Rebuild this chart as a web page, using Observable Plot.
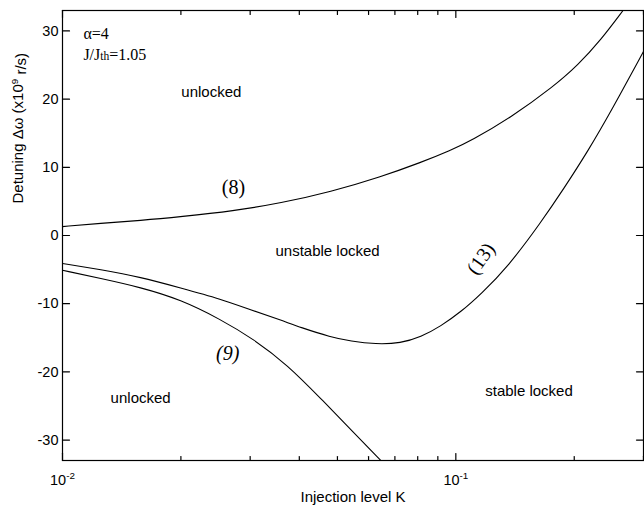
<!DOCTYPE html>
<html><head><meta charset="utf-8">
<script src="https://cdn.jsdelivr.net/npm/d3@7"></script>
<script src="https://cdn.jsdelivr.net/npm/@observablehq/plot@0.6"></script>
<style>body{margin:0;background:#fff} svg{display:block}</style>
</head><body><div id="chart"></div>
<script>
// Curve (8): upper boundary
const k8 = [0.01, 0.01249, 0.01579, 0.01997, 0.02723, 0.03587, 0.04808, 0.06446, 0.08145, 0.09712, 0.1092, 0.138, 0.1776, 0.2044, 0.2339, 0.2661];
const w8 = [1.3, 1.8, 2.2, 2.75, 3.6, 4.75, 6.4, 8.6, 10.7, 12.5, 13.9, 17.3, 21.9, 25.0, 28.7, 33.0];
// Curve (13): stability boundary
const k13 = [0.01, 0.01249, 0.01579, 0.01997, 0.02523, 0.03008, 0.03587, 0.04034, 0.04808, 0.05405, 0.06258, 0.07247, 0.08145, 0.09158, 0.1030, 0.1158, 0.1356, 0.1645, 0.1883, 0.2168, 0.248, 0.30];
const w13 = [-4.1, -5.0, -6.1, -7.7, -9.3, -10.9, -12.4, -13.5, -14.9, -15.5, -15.95, -15.8, -14.9, -13.3, -11.2, -8.6, -4.6, 1.9, 6.9, 12.4, 18.2, 27.0];
// Curve (9): lower boundary
const k9 = [0.01, 0.01249, 0.01579, 0.01997, 0.02523, 0.03062, 0.03737, 0.04534, 0.05502, 0.06446];
const w9 = [-5.1, -6.3, -7.6, -9.4, -12.3, -15.2, -19.0, -23.9, -28.9, -33.0];

const yTicks = [-30, -20, -10, 0, 10, 20, 30];
const xMajor = [0.01, 0.1];
const xMinor = [0.02, 0.03, 0.04, 0.05, 0.06, 0.07, 0.08, 0.09, 0.2, 0.3];

const regionText = ["unlocked", "unstable locked", "unlocked", "stable locked"];
const regionK = [0.0239, 0.0472, 0.0158, 0.1535];
const regionW = [21.0, -2.35, -23.8, -22.9];

const eqText = ["(8)", "(9)", "(13)"];
const eqK = [0.0272, 0.0263, 0.1158];
const eqW = [7.0, -17.3, -3.4];

const paramText = ["α=4", "J/Jth=1.05"];
const paramK = [0.0113, 0.0113];
const paramW = [29.6, 26.5];

const xLabel = "Injection level K";
const yLabel = "Detuning Δω (x10^9 r/s)";

const toRows = (ks, ws, extra) => ks.map((k, i) => ({k, w: ws[i], ...(extra ? {t: extra[i]} : {})}));
const c8 = toRows(k8, w8), c13 = toRows(k13, w13), c9 = toRows(k9, w9);
const regions = toRows(regionK, regionW, regionText);
const eqs = toRows(eqK, eqW, eqText);
const params = toRows(paramK, paramW, paramText);

const sans = "Liberation Sans, Arial, Helvetica, sans-serif";
const serif = "Liberation Serif, Times New Roman, serif";
const lineOpts = {x: "k", y: "w", curve: "basis", stroke: "#000", strokeWidth: 1.1, clip: true};

const W = 644, H = 508, mL = 62, mR = 1, mT = 10, mB = 48;
const tickStyle = {stroke: "#000", strokeWidth: 1.2, frameAnchor: "left"};

// inward tick marks drawn as short vectors anchored to the frame edges
const tickShape = {draw(context, l) { context.moveTo(0, 0); context.lineTo(0, -l); }};

const svg = Plot.plot({
  width: W, height: H,
  marginLeft: mL, marginRight: mR, marginTop: mT, marginBottom: mB,
  style: {fontFamily: sans, fontSize: "14px", color: "#000", background: "#fff"},
  x: {type: "log", domain: [0.01, 0.3]},
  y: {domain: [-33, 33]},
  marks: [
    Plot.line(c8, lineOpts),
    Plot.line(c13, lineOpts),
    Plot.line(c9, lineOpts),
    Plot.frame({stroke: "#000", strokeWidth: 1.2}),
    // left / right ticks
    Plot.vector(yTicks, {y: d => d, frameAnchor: "left", rotate: 90, length: 7, anchor: "start", shape: tickShape, stroke: "#000", strokeWidth: 1.2}),
    Plot.vector(yTicks, {y: d => d, frameAnchor: "right", rotate: -90, length: 7, anchor: "start", shape: tickShape, stroke: "#000", strokeWidth: 1.2}),
    // bottom / top ticks
    Plot.vector(xMajor, {x: d => d, frameAnchor: "bottom", rotate: 0, length: 7, anchor: "start", shape: tickShape, stroke: "#000", strokeWidth: 1.2}),
    Plot.vector(xMinor, {x: d => d, frameAnchor: "bottom", rotate: 0, length: 4, anchor: "start", shape: tickShape, stroke: "#000", strokeWidth: 1.2}),
    Plot.vector(xMajor, {x: d => d, frameAnchor: "top", rotate: 180, length: 7, anchor: "start", shape: tickShape, stroke: "#000", strokeWidth: 1.2}),
    Plot.vector(xMinor, {x: d => d, frameAnchor: "top", rotate: 180, length: 4, anchor: "start", shape: tickShape, stroke: "#000", strokeWidth: 1.2}),
    // tick labels
    Plot.axisY(yTicks, {anchor: "left", tickSize: 0, tickPadding: 4, tickFormat: d => String(d), label: null, fontSize: 14.5}),
    Plot.axisX(xMajor, {anchor: "bottom", tickSize: 0, tickPadding: 14, tickFormat: d => "10^" + Math.round(Math.log10(d)), label: null, fontSize: 14.5}),
    // region labels
    Plot.text(regions, {x: "k", y: "w", text: "t", fontSize: 15, fontFamily: sans, fill: "#000"}),
    // equation labels
    Plot.text(eqs.filter(d => d.t === "(8)"), {x: "k", y: "w", text: "t", fontSize: 20, fontFamily: serif, fill: "#000"}),
    Plot.text(eqs.filter(d => d.t === "(9)"), {x: "k", y: "w", text: "t", fontSize: 20, fontFamily: serif, fontStyle: "italic", fill: "#000"}),
    Plot.text(eqs.filter(d => d.t === "(13)"), {x: "k", y: "w", text: "t", fontSize: 20, fontFamily: serif, rotate: -55, fill: "#000"}),
    // parameter labels
    Plot.text(params, {x: "k", y: "w", text: "t", textAnchor: "start", fontSize: 16, fontFamily: serif, fill: "#000"}),
    // axis titles
    Plot.text([xLabel], {frameAnchor: "bottom", text: d => d, dy: 41, lineAnchor: "bottom", fontSize: 15, fontFamily: sans, fill: "#000"}),
    Plot.text([yLabel], {frameAnchor: "left", text: d => d, rotate: -90, dx: -44, dy: -32, fontSize: 15, fontFamily: sans, fill: "#000"})
  ]
});

// Typeset superscripts / subscripts as real text
const root = d3.select(svg);
root.selectAll("text").each(function() {
  const el = d3.select(this);
  const tsp = el.selectAll("tspan");
  const target = tsp.empty() ? el : d3.select(tsp.nodes()[0]);
  const s = target.text();
  let m;
  if ((m = /^10\^(-?\d+)$/.exec(s))) {
    target.text("10");
    target.append("tspan").attr("dy", "-0.55em").attr("font-size", "0.68em").text(m[1]);
  } else if (s === "J/Jth=1.05") {
    target.text("J/J");
    target.append("tspan").attr("font-size", "0.72em").text("th");
    target.append("tspan").text("=1.05");
  } else if (s === yLabel) {
    const [a, b] = s.split("^");
    target.text(a);
    target.append("tspan").attr("dy", "-0.5em").attr("font-size", "0.65em").text(b[0]);
    target.append("tspan").attr("dy", "0.5em").text(b.slice(1));
  }
});

document.getElementById("chart").appendChild(svg);
</script>
</body></html>
